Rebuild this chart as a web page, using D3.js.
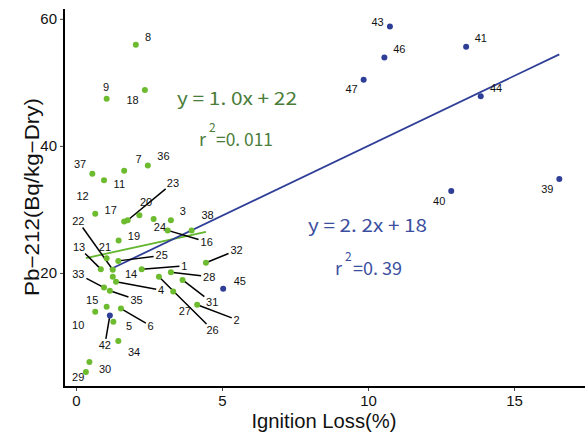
<!DOCTYPE html>
<html><head><meta charset="utf-8">
<script src="https://cdn.jsdelivr.net/npm/d3@7"></script>
<style>body{margin:0;background:#fff} svg{display:block}</style>
</head><body>
<svg id="c" width="588" height="436"></svg>
<script>
// ---- data ----
const sampleIds = [1,2,3,4,5,6,7,8,9,10,11,12,13,14,15,16,17,18,19,20,21,22,23,24,25,26,27,28,29,30,31,32,33,34,35,36,37,38,39,40,41,42,43,44,45,46,47];
const ignitionLoss = [2.25,4.15,3.25,1.37,1.28,1.54,1.65,2.05,1.05,0.66,0.96,1.65,0.85,1.26,1.05,3.14,0.66,2.36,1.46,2.17,1.05,1.26,1.77,2.66,1.45,2.84,3.33,3.25,0.34,0.46,3.65,4.45,0.96,1.45,1.16,2.46,0.56,3.96,16.55,12.85,13.36,1.16,10.75,13.86,5.04,10.56,9.85];
const pb212 = [20.6,15.0,28.3,18.6,12.3,14.4,36.1,55.9,47.4,13.9,34.6,28.1,20.6,19.4,14.7,26.7,29.3,48.8,25.1,29.1,22.3,20.5,28.3,28.5,21.9,19.4,17.1,20.1,4.4,6.0,18.9,21.6,17.7,9.3,17.2,36.9,35.6,26.7,34.8,32.9,55.6,13.3,58.8,47.8,17.5,53.9,50.4];
const sampleGroup = ["A","A","A","A","A","A","A","A","A","A","A","A","A","A","A","A","A","A","A","A","A","A","A","A","A","A","A","A","A","A","A","A","A","A","A","A","A","A","B","B","B","B","B","B","B","B","B"];
const xTicks = [0,5,10,15];
const yTicks = [20,40,60];
const xTitle = "Ignition Loss(%)";
const yTitle = "Pb\u2212212(Bq/kg\u2212Dry)";
const fitGroups = ["A","B"];
const fitSlope = [1.0, 2.2];
const fitIntercept = [22, 18];
const fitEquation = ["y = 1. 0x + 22", "y = 2. 2x + 18"];
const fitR2 = ["=0. 011", "=0. 39"];

// ---- layout / style ----
const groupColor = {A:"#6dbb2f", B:"#2f3f98"};
const lineColor = {A:"#62b52c", B:"#2f3f98"};
const eqColor = {A:"#4a7d3a", B:"#3c4f9f"};
const eqLayout = {
  A:{x:177, y:105, w:120, rx:199, ry:146, sx:209, sy:132, ex:216, ew:57},
  B:{x:308, y:232, w:119, rx:335, ry:275, sx:345, sy:261, ex:353, ew:49}
};
// label offsets (px) from point: [dx, dy, segment?]
const labelOffsets = {
 1:[42.6,-3.3,1],2:[39.4,15,1],3:[12,-9,0],4:[45,8.3,1],5:[15.7,4.3,0],6:[29.7,17.3,1],
 7:[14.4,-12,0],8:[12.3,-7.3,0],9:[-0.7,-11.7,0],10:[-17,13.3,0],11:[15.3,4.3,0],12:[-41.6,-25.3,0],
 13:[-21.7,-21.7,1],14:[18.3,-2.7,0],15:[-14.4,-6.7,0],16:[39,11.4,1],17:[15.4,-4,0],18:[-12.3,10,0],
 19:[15.3,-4.3,0],20:[6.7,-13.3,0],21:[-1.7,-11.6,0],22:[-34.4,-48.3,1],23:[45.3,-37.3,1],24:[6.3,8.7,0],
 25:[43.4,-5.3,1],26:[53.7,53.3,1],27:[11.7,19.3,0],28:[38.3,4.4,1],29:[-7.7,4.7,0],30:[15.7,7.6,0],
 31:[29.6,22.7,1],32:[30.7,-12.7,1],33:[-25.7,-13.4,1],34:[15.7,11,0],35:[26.7,9,1],36:[15.6,-9,0],
 37:[-12.3,-9.7,0],38:[16,-15,0],39:[-12,10,0],40:[-12,10,0],41:[14.7,-9,0],42:[-5,29.3,1],
 43:[-12.3,-4,0],44:[15.3,-8.4,0],45:[16.7,-7.3,0],46:[15,-8.7,0],47:[-12,9.6,0]
};

const svg = d3.select("#c");
const x = d3.scaleLinear().domain([-0.41, 17.43]).range([64, 585]);
const y = d3.scaleLinear().domain([2.05, 61.7]).range([387, 8]);
const latin = "Liberation Sans, Arial, sans-serif";
const cjk = "'Noto Sans CJK JP', sans-serif";

const data = sampleIds.map((id,i)=>({id, x:ignitionLoss[i], y:pb212[i], g:sampleGroup[i]}));

// regression lines
fitGroups.forEach((g,k)=>{
  const xs = data.filter(d=>d.g===g).map(d=>d.x);
  const ext = d3.extent(xs);
  svg.append("line")
    .attr("x1", x(ext[0])).attr("y1", y(fitSlope[k]*ext[0]+fitIntercept[k]))
    .attr("x2", x(ext[1])).attr("y2", y(fitSlope[k]*ext[1]+fitIntercept[k]))
    .attr("stroke", lineColor[g]).attr("stroke-width", 1.8);
});

// axes
const xAxis = svg.append("g").attr("transform","translate(0,387)")
  .call(d3.axisBottom(x).tickValues(xTicks).tickSize(4).tickPadding(4));
const yAxis = svg.append("g").attr("transform","translate(64,0)")
  .call(d3.axisLeft(y).tickValues(yTicks).tickSize(4).tickPadding(3));
[xAxis,yAxis].forEach(a=>{
  a.select(".domain").remove();
  a.selectAll(".tick line").attr("stroke","#444").attr("stroke-width",1);
  a.selectAll(".tick text").attr("font-family",latin).attr("font-size",15).attr("fill","#111");
});
svg.append("line").attr("x1",64).attr("x2",585).attr("y1",387).attr("y2",387).attr("stroke","#000").attr("stroke-width",2);
svg.append("line").attr("x1",64).attr("x2",64).attr("y1",9).attr("y2",388).attr("stroke","#000").attr("stroke-width",2);

svg.append("text").attr("x",324).attr("y",428).attr("text-anchor","middle")
  .attr("font-family",latin).attr("font-size",20).attr("fill","#111")
  .attr("textLength",145).attr("lengthAdjust","spacingAndGlyphs").text(xTitle);
svg.append("text").attr("transform","translate(39,197) rotate(-90)").attr("text-anchor","middle")
  .attr("font-family",latin).attr("font-size",20).attr("fill","#111")
  .attr("textLength",198).attr("lengthAdjust","spacingAndGlyphs").text(yTitle);

// segments + labels
const lab = svg.append("g");
data.forEach(d=>{
  const o = labelOffsets[d.id];
  const px = x(d.x), py = y(d.y);
  const lx = px+o[0], ly = py+o[1];
  lab.append("text").attr("x",lx).attr("y",ly).attr("dy","0.35em")
    .attr("text-anchor","middle").attr("font-family",latin).attr("font-size",11).attr("fill","#111").text(d.id);
  if (o[2]) {
    const hw = String(d.id).length*3.3+1.5, hh = 6;
    const dx = px-lx, dy = py-ly;
    const s = Math.min(hw/Math.abs(dx||1e-6), hh/Math.abs(dy||1e-6));
    lab.append("line").attr("x1",px).attr("y1",py).attr("x2",lx+dx*s).attr("y2",ly+dy*s)
      .attr("stroke","#000").attr("stroke-width",1.5);
  }
});

// points
svg.append("g").selectAll("circle").data(data).join("circle")
  .attr("cx",d=>x(d.x)).attr("cy",d=>y(d.y)).attr("r",3)
  .attr("fill",d=>groupColor[d.g]);

// equations
fitGroups.forEach((g,k)=>{
  const L = eqLayout[g];
  svg.append("text").attr("x",L.x).attr("y",L.y).attr("font-family",cjk).attr("font-size",18)
    .attr("fill",eqColor[g]).attr("textLength",L.w).attr("lengthAdjust","spacingAndGlyphs").text(fitEquation[k]);
  svg.append("text").attr("x",L.rx).attr("y",L.ry).attr("font-family",cjk).attr("font-size",18)
    .attr("fill",eqColor[g]).text("r");
  svg.append("text").attr("x",L.sx).attr("y",L.sy).attr("font-family",cjk).attr("font-size",12)
    .attr("fill",eqColor[g]).text("2");
  svg.append("text").attr("x",L.ex).attr("y",L.ry).attr("font-family",cjk).attr("font-size",18)
    .attr("fill",eqColor[g]).attr("textLength",L.ew).attr("lengthAdjust","spacingAndGlyphs").text(fitR2[k]);
});
</script>
</body></html>
